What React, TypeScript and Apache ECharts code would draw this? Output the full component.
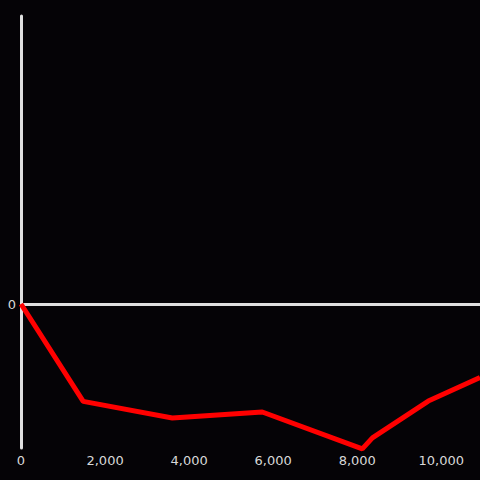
import React, { useEffect, useRef } from "react";
import * as echarts from "echarts";

const xValues = [0, 1480, 3600, 5740, 8120, 8360, 9690, 10920];
const yValues = [0, -33.8, -39.6, -37.5, -50.3, -46.5, -33.7, -25.5];
const xTicks = [0, 2000, 4000, 6000, 8000, 10000];

export default function App() {
  const ref = useRef<HTMLDivElement>(null);
  useEffect(() => {
    const chart = echarts.init(ref.current!, null, { renderer: "svg" });
    chart.setOption({
      animation: false,
      backgroundColor: "#050306",
      grid: { left: 21, right: 0, top: 16, bottom: 32 },
      xAxis: {
        type: "value",
        min: 0,
        max: 10920,
        interval: 2000,
        axisLine: { show: false },
        axisTick: { show: false },
        splitLine: { show: false },
        axisLabel: {
          color: "#d8d8d8",
          fontSize: 13,
          fontFamily: "DejaVu Sans",
          margin: 6,
          customValues: xTicks,
          formatter: (v: number) => v.toLocaleString("en-US"),
        },
      },
      yAxis: {
        type: "value",
        min: -50,
        max: 100,
        interval: 50,
        axisLine: { show: true, onZero: false, lineStyle: { color: "#e0e0e0", width: 3 } },
        axisTick: { show: false },
        splitLine: { show: false },
        axisLabel: {
          color: "#d8d8d8",
          fontSize: 13,
          fontFamily: "DejaVu Sans",
          margin: 5,
          formatter: (v: number) => (v === 0 ? "0" : ""),
        },
      },
      series: [
        {
          type: "line",
          data: xValues.map((x, i) => [x, yValues[i]]),
          showSymbol: false,
          clip: false,
          lineStyle: { color: "#ff0000", width: 5 },
          z: 3,
          markLine: {
            silent: true,
            symbol: ["none", "none"],
            label: { show: false },
            lineStyle: { color: "#e0e0e0", width: 3, type: "solid" },
            data: [{ yAxis: 0 }],
            z: 1,
          },
        },
      ],
    });
    return () => chart.dispose();
  }, []);
  return (
    <div
      ref={ref}
      style={{ position: "fixed", left: 0, top: 0, width: 480, height: 480 }}
    />
  );
}
